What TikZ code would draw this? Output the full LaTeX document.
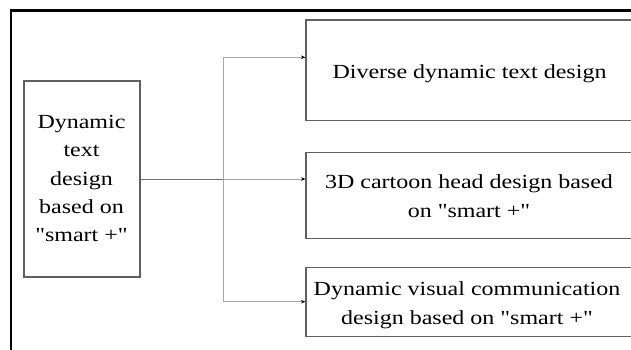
\documentclass[tikz,border=0pt]{standalone}
\usetikzlibrary{arrows.meta}
\font\diagfont="Liberation Serif:extend=1.2" at 20pt
\newcommand\diagtxt{\diagfont\baselineskip 28.4pt\relax}
\definecolor{boxgray}{HTML}{606060}
\definecolor{linegray}{HTML}{A8A8A8}
\definecolor{stemgray}{HTML}{707070}
\tikzset{
  boxnode/.style={draw=boxgray, line width=1.1pt, inner sep=0pt, rectangle},
  txt/.style={inner sep=0pt, align=center, font=\diagtxt},
  conn/.style={draw=linegray, line width=0.9pt},
  tip/.style={-{Stealth[length=4.5pt,width=3.5pt,black]}},
}
\begin{document}
\begin{tikzpicture}[x=1pt,y=1pt]
\useasboundingbox (0,0) rectangle (631,-349);
\clip (0,0) rectangle (631,-349);
\fill[white] (0,0) rectangle (631,-349);
% outer frame (partly visible)
\draw[black, line width=2.2pt] (640,-10.5) -- (11,-10.5) -- (11,-360);
% boxes
\node[boxnode, minimum width=116pt, minimum height=196pt] (L) at (82,-179) {};
\node[boxnode, minimum width=394pt, minimum height=100.7pt] (B1) at (503,-70.35) {};
\node[boxnode, minimum width=394pt, minimum height=86pt] (B2) at (503,-195.3) {};
\node[boxnode, minimum width=394pt, minimum height=69.4pt] (B3) at (503,-302) {};
% texts
\node[txt] (tL) at (81.5,-178.6) {Dynamic\\text\\design\\based on\\"smart +"};
\node[txt, anchor=base] (t1) at (469.5,-78.3) {Diverse dynamic text design};
\node[txt] (t2) at (469,-196) {3D cartoon head design based\\on "smart +"};
\node[txt] (t3) at (467,-305.3) {Dynamic visual communication\\design based on "smart +"};
% connectors
\coordinate (J) at (223.3,-179);
\coordinate (J1) at (223.3,-57.3);
\coordinate (J3) at (223.3,-301.7);
\draw[draw=stemgray, line width=0.9pt] (L.east |- J) -- (J);
\draw[conn, tip] (J) -- (J -| B2.west);
\draw[conn, tip] (J) -- (J1) -- (J1 -| B1.west);
\draw[conn, tip] (J) -- (J3) -- (J3 -| B3.west);
\end{tikzpicture}
\end{document}
